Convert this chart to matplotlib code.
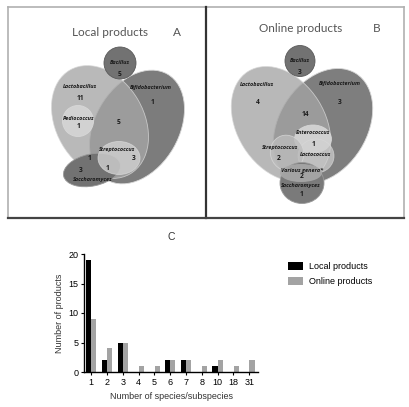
import matplotlib
matplotlib.use("Agg")
import matplotlib.pyplot as plt
from matplotlib.patches import Ellipse, Patch

# --- panel C data ---
species_counts = ['1', '2', '3', '4', '5', '6', '7', '8', '10', '18', '31']
local_products = [19, 2, 5, 0, 0, 2, 2, 0, 1, 0, 0]
online_products = [9, 4, 5, 1, 1, 2, 2, 1, 2, 1, 2]

# --- panel A / B venn contents ---
local_genera = ['Bacillus', 'Lactobacillus', 'Bifidobacterium', 'Pediococcus',
                'Streptococcus', 'Saccharomyces']
local_counts = ['5', '11', '1', '1', '5', '3', '1', '1', '3']
online_genera = ['Bacillus', 'Lactobacillus', 'Bifidobacterium', 'Enterococcus',
                 'Streptococcus', 'Lactococcus', 'Various genera*', 'Saccharomyces']
online_counts = ['3', '4', '3', '14', '1', '2', '2', '1']

W, H = 409, 407
fig = plt.figure(figsize=(W / 100, H / 100), dpi=100)
bg = fig.add_axes([0, 0, 1, 1])
bg.set_xlim(0, W)
bg.set_ylim(H, 0)
bg.axis('off')

# panel frames
bg.plot([8, 404], [7, 7], color='#b0b0b0', lw=1.2)
bg.plot([8, 8], [7, 218], color='#b0b0b0', lw=1.2)
bg.plot([404, 404], [7, 218], color='#b0b0b0', lw=1.2)
bg.plot([206, 206], [7, 218], color='#333333', lw=1.6)
bg.plot([8, 404], [218, 218], color='#444444', lw=1.6)

title_font = dict(family='Lato', color='#555555', fontsize=8.5)
bg.text(110, 32, 'Local products', ha='center', va='center', **title_font)
bg.text(177, 32, 'A', ha='center', va='center', **title_font)
bg.text(301, 28, 'Online products', ha='center', va='center', **title_font)
bg.text(377, 28, 'B', ha='center', va='center', **title_font)


def ell(x, y, w, h, ang, fc, alpha=1.0, ec='#d8d8d8', z=1):
    bg.add_patch(Ellipse((x, y), w, h, angle=ang, fc=fc, ec=ec, lw=0.6,
                         alpha=alpha, zorder=z))


def name(x, y, s):
    bg.text(x, y, s, ha='center', va='center', fontsize=4.0, style='italic',
            weight='bold', color='#1a1a1a', family='Open Sans', zorder=10)


def num(x, y, s):
    bg.text(x, y, s, ha='center', va='center', fontsize=4.8, weight='bold',
            color='#1a1a1a', family='Open Sans', zorder=10)


# ---- panel A ----
ell(137, 127, 122, 84, -60, '#7c7c7c', z=1)
ell(100, 122, 120, 88, 60, '#a6a6a6', alpha=0.78, z=2)
ell(120, 63, 32, 32, 0, '#727272', ec='#5a5a5a', z=3)
ell(78, 121, 31, 31, 0, '#d2d2d2', z=4)
ell(92, 170, 58, 32, -12, '#727272', ec='#999999', z=3)
ell(119, 158, 42, 33, 0, '#d0d0d0', alpha=0.8, z=5)

name(120, 63, local_genera[0]); num(120, 75, local_counts[0])
name(80, 87, local_genera[1]); num(80, 98, local_counts[1])
name(151, 87, local_genera[2]); num(152, 102, local_counts[2])
name(79, 118, local_genera[3]); num(78, 127, local_counts[3])
num(119, 123, local_counts[4])
name(117, 150, local_genera[4]); num(134, 159, local_counts[5])
num(107, 168, local_counts[6]); num(89, 158, local_counts[7])
num(81, 170, local_counts[8]); name(93, 180, local_genera[5])

# ---- panel B ----
ell(323, 126, 124, 88, -58, '#7e7e7e', z=1)
ell(281, 124, 124, 88, 58, '#a4a4a4', alpha=0.78, z=2)
ell(300, 61, 30, 31, 0, '#727272', ec='#5a5a5a', z=3)
ell(313, 139, 37, 28, 0, '#d6d6d6', alpha=0.9, z=4)
ell(316, 156, 36, 34, 0, '#d0d0d0', alpha=0.7, z=4)
ell(287, 153, 33, 36, -20, '#bcbcbc', alpha=0.8, z=4)
ell(302, 183, 44, 41, 0, '#7a7a7a', ec='#9a9a9a', z=5)
ell(301, 173, 42, 18, 0, '#a8a8a8', alpha=0.9, ec='none', z=6)

name(300, 60, online_genera[0]); num(300, 72, online_counts[0])
name(257, 84, online_genera[1]); num(258, 102, online_counts[1])
name(340, 84, online_genera[2]); num(340, 102, online_counts[2])
num(305, 115, online_counts[3])
name(313, 133, online_genera[3]); num(313, 144, online_counts[4])
name(280, 148, online_genera[4]); num(279, 158, online_counts[5])
name(316, 155, online_genera[5])
name(302, 170, online_genera[6]); num(302, 177, online_counts[6])
name(301, 186, online_genera[7]); num(301, 195, online_counts[7])

# ---- panel C ----
plt.rcParams['font.family'] = ['Liberation Sans', 'DejaVu Sans']
ax = fig.add_axes([84 / W, 35 / H, 174 / W, 118 / H])
pos = list(range(len(species_counts)))
bw = 0.32
ax.bar([p - 0.17 for p in pos], local_products, width=bw, color='black',
       label='Local products')
ax.bar([p + 0.17 for p in pos], online_products, width=bw, color='#a3a3a3',
       label='Online products')
ax.set_xlim(-0.45, 10.55)
ax.set_ylim(0, 20)
ax.set_yticks([0, 5, 10, 15, 20])
ax.set_xticks(pos)
ax.set_xticklabels(species_counts)
for s in ['top', 'right']:
    ax.spines[s].set_visible(False)
for s in ['left', 'bottom']:
    ax.spines[s].set_linewidth(1.0)
ax.tick_params(labelsize=6.5, length=2.5, width=0.8, pad=1.5)
ax.set_xlabel('Number of species/subspecies', fontsize=6.5, color='#333333', labelpad=4)
ax.set_ylabel('Number of products', fontsize=6.5, color='#333333', labelpad=3)
ax.set_title('C', fontsize=7.5, color='#333333', pad=10)
fig.legend(handles=[Patch(fc='black'), Patch(fc='#a3a3a3')],
           labels=['Local products', 'Online products'],
           loc='upper left', bbox_to_anchor=(280 / W, 1 - 254 / H), frameon=False,
           fontsize=6.5, handlelength=1.7, handleheight=1.0, labelspacing=0.6,
           handletextpad=0.6)

fig.savefig('out.png', dpi=100)
